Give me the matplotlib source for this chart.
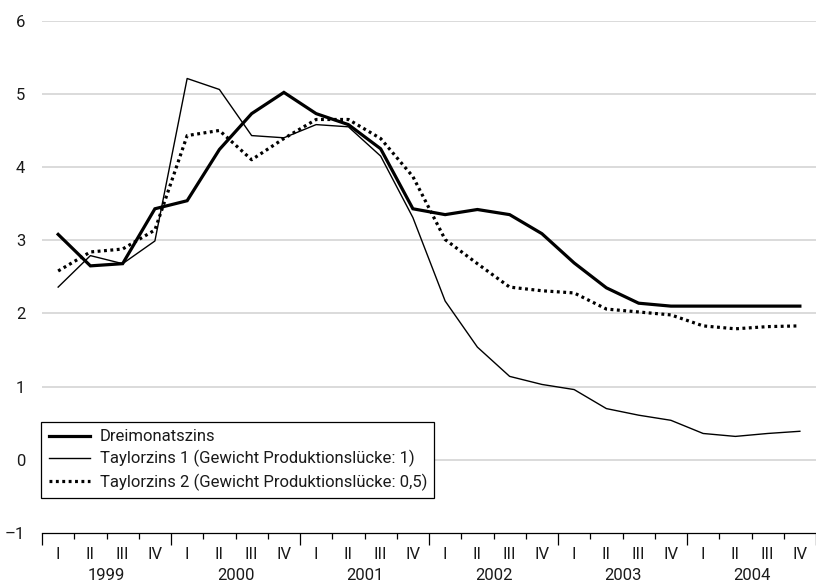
import numpy as np
from matplotlib import pyplot as plt
from matplotlib.ticker import FixedLocator

plt.rcParams["font.family"] = ["Roboto", "DejaVu Sans"]

years = [1999, 2000, 2001, 2002, 2003, 2004]
quarters = ["I", "II", "III", "IV"]

dreimonatszins = [3.08, 2.65, 2.68, 3.43, 3.54, 4.24, 4.73, 5.02, 4.73, 4.58, 4.25, 3.43,
                  3.35, 3.42, 3.35, 3.09, 2.69, 2.35, 2.14, 2.10, 2.10, 2.10, 2.10, 2.10]
taylorzins_1 = [2.36, 2.79, 2.68, 2.99, 5.21, 5.06, 4.43, 4.40, 4.58, 4.55, 4.15, 3.31,
                2.17, 1.54, 1.14, 1.03, 0.96, 0.70, 0.61, 0.54, 0.36, 0.32, 0.36, 0.39]
taylorzins_2 = [2.58, 2.84, 2.88, 3.14, 4.43, 4.50, 4.10, 4.39, 4.65, 4.65, 4.39, 3.87,
                3.01, 2.68, 2.36, 2.31, 2.28, 2.06, 2.02, 1.98, 1.83, 1.79, 1.82, 1.83]

labels = [
    "Dreimonatszins",
    "Taylorzins 1 (Gewicht Produktionslücke: 1)",
    "Taylorzins 2 (Gewicht Produktionslücke: 0,5)",
]

text_color = "#1a1a1a"
x = np.arange(len(dreimonatszins))

fig = plt.figure(figsize=(8.16, 5.84), dpi=100)
ax = fig.add_axes([0.0515, 0.0873, 0.9485, 0.8773])

# Gitterlinien
for v in range(0, 7):
    ax.axhline(v, color="#d4d4d4", lw=1.2, zorder=1)

ax.plot(x, dreimonatszins, color="black", lw=2.3, label=labels[0], zorder=3,
        solid_joinstyle="miter")
ax.plot(x, taylorzins_1, color="black", lw=1.0, label=labels[1], zorder=3)
ax.plot(x, taylorzins_2, color="black", lw=2.3, dashes=(0.9, 1.1), label=labels[2],
        zorder=3)

ax.set_xlim(-0.5, len(x) - 0.5)
ax.set_ylim(-1, 6)
ax.set_yticks(range(-1, 7))
ax.set_yticklabels([str(v).replace("-", "\u2013") for v in range(-1, 7)])
ax.tick_params(axis="y", length=0, pad=12, labelsize=12, labelcolor=text_color)

for side in ["top", "right", "left"]:
    ax.spines[side].set_visible(False)
ax.spines["bottom"].set_color("black")
ax.spines["bottom"].set_linewidth(0.9)

# Jahresgrenzen (lang) und Quartalsgrenzen (kurz)
ax.xaxis.set_major_locator(FixedLocator(np.arange(-0.5, len(x), 4)))
ax.xaxis.set_minor_locator(FixedLocator(np.arange(-0.5, len(x), 1)))
ax.tick_params(axis="x", which="major", length=8.5, width=0.9, labelbottom=False)
ax.tick_params(axis="x", which="minor", length=4.5, width=0.9)

trans = ax.get_xaxis_transform()
for i in x:
    ax.text(i, -0.042, quarters[i % 4], transform=trans, ha="center", va="center",
            fontsize=12, color=text_color)
for j, yr in enumerate(years):
    ax.text(j * 4 + 1.5, -0.083, str(yr), transform=trans, ha="center", va="center",
            fontsize=12, color=text_color)

leg = ax.legend(loc="upper left", bbox_to_anchor=(-0.001, 0.217), borderaxespad=0,
                fontsize=12, frameon=True, fancybox=False, handlelength=2.5,
                handletextpad=0.55, labelspacing=0.35, borderpad=0.45,
                labelcolor=text_color)
leg.get_frame().set_edgecolor("black")
leg.get_frame().set_linewidth(0.9)
leg.get_frame().set_alpha(1)

fig.savefig("out.png", dpi=100)
